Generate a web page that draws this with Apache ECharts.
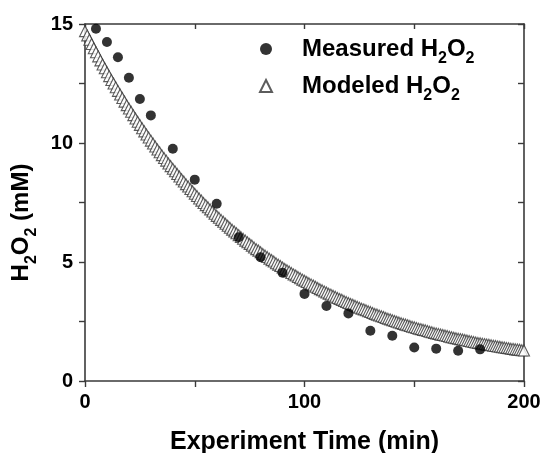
<!DOCTYPE html>
<html>
<head>
<meta charset="utf-8">
<script src="https://cdn.jsdelivr.net/npm/echarts@6/dist/echarts.min.js"></script>
<style>
  html, body { margin: 0; padding: 0; background: #ffffff; }
  #chart { width: 542px; height: 453px; }
</style>
</head>
<body>
<div id="chart"></div>
<script>
// Measured hydrogen peroxide concentration (mM) vs. experiment time (min)
const measuredTime = [5, 10, 15, 20, 25, 30, 40, 50, 60, 70, 80, 90, 100, 110, 120, 130, 140, 150, 160, 170, 180];
const measuredConc = [14.80, 14.24, 13.60, 12.74, 11.85, 11.16, 9.76, 8.46, 7.45, 6.04, 5.20, 4.55, 3.66, 3.15, 2.84, 2.11, 1.90, 1.41, 1.36, 1.27, 1.33];

// Modeled concentration (mM), one value per minute from 0 to 200 min
const modeledConc = [
  14.70, 14.52, 14.34, 14.16, 13.98, 13.81, 13.64, 13.47, 13.30, 13.14,
  12.97, 12.81, 12.65, 12.50, 12.34, 12.19, 12.04, 11.89, 11.74, 11.59,
  11.45, 11.31, 11.17, 11.03, 10.89, 10.76, 10.62, 10.49, 10.36, 10.23,
  10.10, 9.98, 9.85, 9.73, 9.61, 9.49, 9.37, 9.26, 9.14, 9.03,
  8.92, 8.81, 8.70, 8.59, 8.48, 8.38, 8.27, 8.17, 8.07, 7.97,
  7.87, 7.77, 7.67, 7.58, 7.48, 7.39, 7.30, 7.21, 7.12, 7.03,
  6.94, 6.86, 6.77, 6.69, 6.61, 6.52, 6.44, 6.36, 6.28, 6.21,
  6.13, 6.05, 5.98, 5.90, 5.83, 5.76, 5.69, 5.61, 5.54, 5.48,
  5.41, 5.34, 5.27, 5.21, 5.14, 5.08, 5.02, 4.95, 4.89, 4.83,
  4.77, 4.71, 4.65, 4.60, 4.54, 4.48, 4.43, 4.37, 4.32, 4.26,
  4.21, 4.16, 4.11, 4.06, 4.01, 3.96, 3.91, 3.86, 3.81, 3.76,
  3.72, 3.67, 3.63, 3.58, 3.54, 3.49, 3.45, 3.41, 3.36, 3.32,
  3.28, 3.24, 3.20, 3.16, 3.12, 3.08, 3.04, 3.01, 2.97, 2.93,
  2.90, 2.86, 2.82, 2.79, 2.75, 2.72, 2.69, 2.65, 2.62, 2.59,
  2.55, 2.52, 2.49, 2.46, 2.43, 2.40, 2.37, 2.34, 2.31, 2.28,
  2.26, 2.23, 2.20, 2.18, 2.15, 2.13, 2.10, 2.07, 2.05, 2.02,
  2.00, 1.98, 1.95, 1.93, 1.91, 1.89, 1.86, 1.84, 1.82, 1.80,
  1.78, 1.76, 1.74, 1.72, 1.70, 1.68, 1.66, 1.64, 1.62, 1.60,
  1.59, 1.57, 1.55, 1.53, 1.52, 1.50, 1.48, 1.47, 1.45, 1.44,
  1.42, 1.41, 1.39, 1.38, 1.36, 1.35, 1.33, 1.32, 1.31, 1.29,
  1.28
];

// Axis ranges and tick spacing
const xRange = [0, 200];
const xStep = 100;
const yRange = [0, 15];
const yStep = 5;

const FONT = '"Liberation Sans", Arial, Helvetica, sans-serif';
const AXIS_COLOR = '#3a3a3a';

const modeledPairs = modeledConc.map((v, i) => [i, v]);
const measuredPairs = measuredTime.map((t, i) => [t, measuredConc[i]]);

// Rich-text styles for the H2O2 subscripts
const richSub = {
  b: { fontFamily: FONT, fontWeight: 'bold', fontSize: 24, color: '#000', lineHeight: 28 },
  s: { fontFamily: FONT, fontWeight: 'bold', fontSize: 16, color: '#000', lineHeight: 16, padding: [20, 0, 0, 0] }
};

const axisLine = { show: true, onZero: false, lineStyle: { color: AXIS_COLOR, width: 1.6 } };
const tickStyle = { color: AXIS_COLOR, width: 1.4 };

const chart = echarts.init(document.getElementById('chart'), null, { renderer: 'canvas' });

chart.setOption({
  backgroundColor: '#ffffff',
  animation: false,
  grid: { left: 85, right: 18, top: 24, bottom: 72, containLabel: false, outerBoundsMode: 'none' },
  legend: {
    orient: 'vertical',
    left: 254,
    top: 26,
    itemWidth: 12,
    itemHeight: 12,
    itemGap: 1,
    data: ['Measured', 'Modeled'],
    formatter: name => '{b|' + name + ' H}{s|2}{b|O}{s|2}',
    textStyle: { padding: [0, 0, 0, 25], rich: richSub }
  },
  xAxis: [
    {
      type: 'value',
      min: xRange[0], max: xRange[1], interval: xStep,
      position: 'bottom',
      name: 'Experiment Time (min)',
      nameLocation: 'middle',
      nameGap: 49,
      nameTextStyle: { fontFamily: FONT, fontWeight: 'bold', fontSize: 25, color: '#000' },
      axisLine: axisLine,
      axisTick: { show: true, inside: false, length: 6, lineStyle: tickStyle },
      minorTick: { show: true, splitNumber: 2, length: 6, lineStyle: tickStyle },
      axisLabel: { fontFamily: FONT, fontWeight: 'bold', fontSize: 20, color: '#000', margin: 11 },
      splitLine: { show: false }
    },
    {
      type: 'value',
      min: xRange[0], max: xRange[1], interval: xStep,
      position: 'top',
      axisLine: axisLine,
      axisTick: { show: true, inside: true, length: 5, lineStyle: tickStyle },
      minorTick: { show: true, splitNumber: 2, length: 5, lineStyle: tickStyle },
      axisLabel: { show: false },
      splitLine: { show: false }
    }
  ],
  yAxis: [
    {
      type: 'value',
      min: yRange[0], max: yRange[1], interval: yStep,
      position: 'left',
      name: '{b|H}{s|2}{b|O}{s|2}{b| (mM)}',
      nameLocation: 'middle',
      nameRotate: 90,
      nameGap: 36,
      nameTextStyle: { rich: richSub, padding: [0, 40, 0, 0] },
      axisLine: axisLine,
      axisTick: { show: true, inside: false, length: 6, lineStyle: tickStyle },
      minorTick: { show: true, splitNumber: 2, length: 6, lineStyle: tickStyle },
      axisLabel: { fontFamily: FONT, fontWeight: 'bold', fontSize: 20, color: '#000', margin: 12 },
      splitLine: { show: false }
    },
    {
      type: 'value',
      min: yRange[0], max: yRange[1], interval: yStep,
      position: 'right',
      axisLine: axisLine,
      axisTick: { show: true, inside: true, length: 6, lineStyle: tickStyle },
      minorTick: { show: true, splitNumber: 2, length: 6, lineStyle: tickStyle },
      axisLabel: { show: false },
      splitLine: { show: false }
    }
  ],
  series: [
    {
      name: 'Modeled',
      type: 'scatter',
      xAxisIndex: 0, yAxisIndex: 0,
      symbol: 'triangle',
      symbolSize: 11,
      itemStyle: { color: '#ffffff', borderColor: '#333333', borderWidth: 1.1 },
      data: modeledPairs,
      z: 2
    },
    {
      name: 'Measured',
      type: 'scatter',
      xAxisIndex: 0, yAxisIndex: 0,
      symbol: 'circle',
      symbolSize: 10,
      itemStyle: { color: '#000000' },
      data: measuredPairs,
      z: 3
    }
  ]
});
</script>
</body>
</html>
